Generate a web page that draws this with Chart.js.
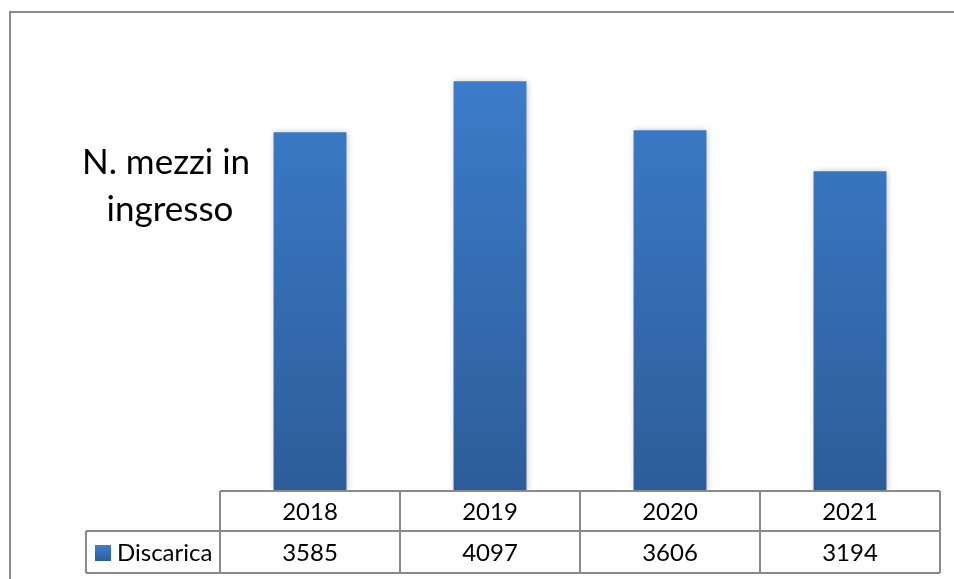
<!DOCTYPE html>
<html>
<head>
<meta charset="utf-8">
<script src="https://cdn.jsdelivr.net/npm/chart.js@4"></script>
<style>
  html, body { margin: 0; padding: 0; background: #fff; }
  #wrap { width: 954px; height: 579px; position: relative; }
</style>
</head>
<body>
<div id="wrap"><canvas id="mezziChart" width="954" height="579"></canvas></div>
<script>
const years = ["2018", "2019", "2020", "2021"];
const discarica = [3585, 4097, 3606, 3194];
const seriesName = "Discarica";
const titleLines = ["N. mezzi in", "ingresso"];

const FONT = "Lato, 'Open Sans', sans-serif";
const LINE = "#8a8a8a";

function barGradient(ctx, top, bottom) {
  const g = ctx.createLinearGradient(0, top, 0, bottom);
  g.addColorStop(0, "#3d7fcf");
  g.addColorStop(1, "#2d5d99");
  return g;
}

// soft shadow behind the bars
const shadowPlugin = {
  id: "barShadow",
  beforeDatasetsDraw(chart) {
    const c = chart.ctx;
    c.save();
    c.shadowColor = "rgba(0,0,0,0.28)";
    c.shadowBlur = 7;
    c.shadowOffsetX = 1;
    c.shadowOffsetY = 1;
  },
  afterDatasetsDraw(chart) {
    chart.ctx.restore();
  },
};

// frame, title and the data table under the bars
const tablePlugin = {
  id: "dataTable",
  beforeDraw(chart) {
    const c = chart.ctx;
    c.save();
    c.strokeStyle = LINE;
    c.lineWidth = 2;
    c.beginPath();
    c.moveTo(10, 600);
    c.lineTo(10, 12);
    c.lineTo(960, 12);
    c.stroke();
    c.restore();
  },
  afterDraw(chart) {
    const c = chart.ctx;
    const x = chart.scales.x;
    const area = chart.chartArea;
    const colW = x.getPixelForValue(1) - x.getPixelForValue(0);
    const left = x.getPixelForValue(0) - colW / 2;
    const right = x.getPixelForValue(years.length - 1) + colW / 2;
    const top = area.bottom + 1;
    const mid = top + 40;
    const bot = mid + 42;
    const legendLeft = 86;

    c.save();
    c.strokeStyle = LINE;
    c.lineWidth = 2;
    c.beginPath();
    c.moveTo(left, top); c.lineTo(right, top);
    c.moveTo(legendLeft, mid); c.lineTo(right, mid);
    c.moveTo(legendLeft, bot); c.lineTo(right, bot);
    c.moveTo(legendLeft, mid); c.lineTo(legendLeft, bot);
    for (let i = 0; i <= years.length; i++) {
      const px = left + i * colW;
      c.moveTo(px, top); c.lineTo(px, bot);
    }
    c.stroke();

    c.fillStyle = "#000";
    c.font = "24px " + FONT;
    c.textAlign = "center";
    c.textBaseline = "middle";
    years.forEach((y, i) => {
      const cx = x.getPixelForValue(i);
      c.fillText(y, cx, (top + mid) / 2 + 1);
      c.fillText(String(discarica[i]), cx, (mid + bot) / 2 + 1);
    });

    // legend key
    c.fillStyle = barGradient(c, mid + 14, mid + 30);
    c.fillRect(95, mid + 14, 16, 16);
    c.fillStyle = "#000";
    c.textAlign = "left";
    c.fillText(seriesName, 117, (mid + bot) / 2 + 1);

    // title on the left
    c.font = "35px " + FONT;
    c.textAlign = "center";
    c.fillText(titleLines[0], 166, 163);
    c.fillText(titleLines[1], 170, 210);
    c.restore();
  },
};

const ctx = document.getElementById("mezziChart");
new Chart(ctx, {
  type: "bar",
  data: {
    labels: years,
    datasets: [
      {
        label: seriesName,
        data: discarica,
        backgroundColor: (context) => {
          const area = context.chart.chartArea;
          if (!area) return "#3572bb";
          return barGradient(context.chart.ctx, area.top, area.bottom);
        },
        categoryPercentage: 1.0,
        barPercentage: 0.405,
      },
    ],
  },
  options: {
    responsive: false,
    animation: false,
    layout: { padding: { left: 220, right: 14, top: 41, bottom: 89 } },
    scales: {
      x: { display: false },
      y: { display: false, min: 0, max: 4500 },
    },
    plugins: {
      legend: { display: false },
      tooltip: { enabled: false },
    },
  },
  plugins: [shadowPlugin, tablePlugin],
});
</script>
</body>
</html>
